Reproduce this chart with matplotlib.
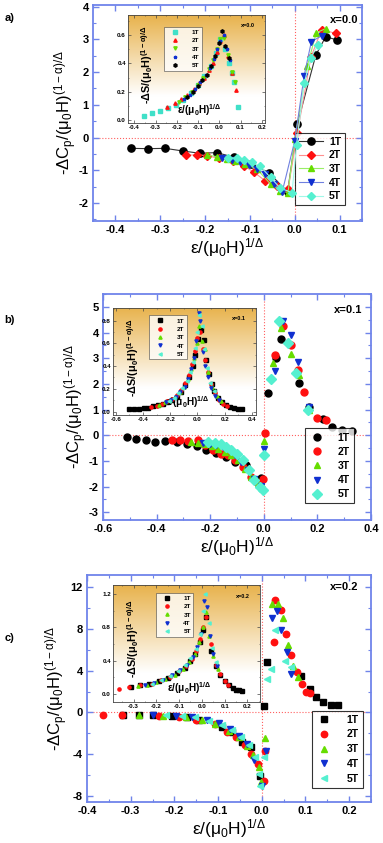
import numpy as np
import matplotlib
matplotlib.use('Agg')
import matplotlib.pyplot as plt
from matplotlib.ticker import MultipleLocator, FormatStrFormatter

plt.rcParams['font.family'] = ['Liberation Sans', 'DejaVu Sans']
plt.rcParams['font.weight'] = 'bold'
plt.rcParams['mathtext.fontset'] = 'custom'
plt.rcParams['mathtext.rm'] = 'Liberation Sans:bold'
plt.rcParams['mathtext.it'] = 'Liberation Sans:bold'
plt.rcParams['mathtext.bf'] = 'Liberation Sans:bold'
plt.rcParams['mathtext.default'] = 'regular'
plt.rcParams['axes.unicode_minus'] = False

fields = ['1T', '2T', '3T', '4T', '5T']

# ---- panel a, x=0.0 : main curves (-dCp)
a_x = [
    [-0.365, -0.327, -0.289, -0.25, -0.212, -0.174, -0.136, -0.098, -0.058, -0.016, 0.006, 0.047, 0.069, 0.095],
    [-0.243, -0.219, -0.195, -0.17, -0.137, -0.114, -0.092, -0.066, -0.04, -0.015, 0.006, 0.036, 0.06, 0.092],
    [-0.196, -0.174, -0.151, -0.133, -0.11, -0.084, -0.054, -0.032, -0.015, 0.0, 0.028, 0.048, 0.069],
    [-0.163, -0.14, -0.122, -0.103, -0.084, -0.066, -0.047, -0.028, 0.0, 0.021, 0.037, 0.06],
    [-0.148, -0.129, -0.113, -0.096, -0.077, -0.054, -0.032, -0.006, 0.004, 0.021, 0.036, 0.052],
]
a_y = [
    [-0.33, -0.34, -0.33, -0.41, -0.48, -0.46, -0.6, -0.8, -1.07, -1.66, 0.42, 2.52, 3.08, 2.98],
    [-0.54, -0.53, -0.55, -0.64, -0.71, -0.86, -1.05, -1.32, -1.47, -1.58, 0.15, 2.45, 3.3, 3.18],
    [-0.54, -0.58, -0.66, -0.71, -0.81, -0.97, -1.42, -1.63, -1.68, -0.05, 2.19, 3.2, 3.33],
    [-0.63, -0.68, -0.74, -0.84, -0.95, -1.12, -1.42, -1.66, -0.1, 1.89, 2.93, 3.11],
    [-0.61, -0.64, -0.68, -0.76, -0.88, -1.22, -1.55, -1.68, -0.22, 1.66, 2.44, 2.83],
]
# panel a inset (-dS)
ai_x = [
    [-0.355, -0.315, -0.278, -0.24, -0.205, -0.17, -0.135, -0.1, -0.07, -0.04, -0.015, 0.005, 0.025, 0.045, 0.06, 0.07, 0.09],
    [-0.245, -0.21, -0.18, -0.15, -0.12, -0.095, -0.07, -0.05, -0.03, -0.01, 0.005, 0.02, 0.04, 0.06, 0.08],
    [-0.19, -0.16, -0.13, -0.1, -0.075, -0.05, -0.03, -0.01, 0.005, 0.02, 0.04, 0.06, 0.075],
    [-0.165, -0.14, -0.115, -0.09, -0.065, -0.045, -0.025, -0.01, 0.005, 0.02, 0.035, 0.05],
    [-0.15, -0.125, -0.1, -0.08, -0.06, -0.04, -0.02, 0.0, 0.012, 0.028, 0.045],
]
ai_y = [
    [0.03, 0.05, 0.065, 0.085, 0.11, 0.145, 0.19, 0.25, 0.31, 0.38, 0.47, 0.57, 0.5, 0.4, 0.33, 0.27, 0.09],
    [0.09, 0.12, 0.15, 0.18, 0.22, 0.26, 0.3, 0.35, 0.4, 0.48, 0.56, 0.6, 0.45, 0.33, 0.21],
    [0.13, 0.16, 0.2, 0.25, 0.3, 0.36, 0.42, 0.5, 0.57, 0.58, 0.46, 0.34, 0.27],
    [0.15, 0.18, 0.22, 0.27, 0.32, 0.37, 0.43, 0.5, 0.56, 0.6, 0.5, 0.42],
    [0.16, 0.2, 0.24, 0.28, 0.32, 0.38, 0.45, 0.54, 0.63, 0.52, 0.44],
]

# ---- panel b, x=0.1
b_x = [
    [-0.51, -0.475, -0.44, -0.405, -0.37, -0.325, -0.288, -0.251, -0.217, -0.177, -0.14, -0.106, -0.065, -0.01,
     0.017, 0.046, 0.064, 0.132, 0.169, 0.22, 0.256, 0.293, 0.33],
    [-0.343, -0.312, -0.281, -0.247, -0.22, -0.191, -0.16, -0.133, -0.106, -0.078, -0.049, -0.022, -0.004, 0.006,
     0.04, 0.073, 0.1, 0.126, 0.15, 0.2, 0.231],
    [-0.272, -0.247, -0.22, -0.195, -0.17, -0.146, -0.121, -0.096, -0.072, -0.047, -0.022, -0.004, 0.002,
     0.033, 0.064, 0.101, 0.132, 0.17],
    [-0.226, -0.201, -0.177, -0.152, -0.127, -0.106, -0.084, -0.059, -0.035, -0.012, 0.0,
     0.04, 0.07, 0.101, 0.126, 0.168],
    [-0.207, -0.183, -0.16, -0.14, -0.121, -0.099, -0.078, -0.057, -0.035, -0.016, -0.004, 0.002,
     0.027, 0.058, 0.089, 0.12, 0.165],
]
b_y = [
    [-0.07, -0.13, -0.17, -0.26, -0.23, -0.26, -0.36, -0.4, -0.56, -0.68, -0.85, -1.04, -1.17, -1.67,
     1.63, 3.0, 3.76, 2.02, 1.11, 0.62, 0.33, 0.2, 0.17],
    [-0.17, -0.2, -0.22, -0.17, -0.39, -0.59, -0.72, -0.78, -0.98, -1.24, -1.63, -1.85, -1.7, 0.1,
     3.13, 4.24, 3.52, 2.55, 1.7, 0.68, 0.59],
    [-0.26, -0.29, -0.33, -0.42, -0.52, -0.65, -0.78, -0.98, -1.31, -1.63, -1.89, -2.02, -0.22,
     2.8, 4.18, 3.17, 2.35, 1.0],
    [-0.29, -0.33, -0.39, -0.46, -0.59, -0.78, -1.04, -1.37, -1.7, -1.96, -0.52,
     2.52, 4.44, 3.92, 2.87, 1.1],
    [-0.26, -0.3, -0.35, -0.46, -0.56, -0.72, -0.98, -1.34, -1.76, -2.02, -2.15, -0.78,
     2.19, 4.44, 3.59, 2.42, 1.0],
]
bi_x = [
    [-0.5, -0.465, -0.43, -0.395, -0.36, -0.325, -0.29, -0.255, -0.22, -0.185, -0.15, -0.12, -0.09, -0.06, -0.035,
     -0.015, 0.005, 0.025, 0.045, 0.065, 0.085, 0.105, 0.125, 0.15, 0.18, 0.21, 0.24, 0.27, 0.3, 0.33],
    [-0.34, -0.3, -0.26, -0.22, -0.185, -0.15, -0.12, -0.09, -0.065, -0.04, -0.02, 0.0, 0.02, 0.04, 0.055,
     0.075, 0.1, 0.13, 0.16, 0.19, 0.22],
    [-0.28, -0.24, -0.2, -0.165, -0.13, -0.1, -0.07, -0.045, -0.025, -0.005, 0.015, 0.035, 0.055, 0.08, 0.11,
     0.14, 0.17],
    [-0.23, -0.195, -0.16, -0.125, -0.095, -0.068, -0.045, -0.025, -0.008, 0.008, 0.022, 0.038, 0.055, 0.075,
     0.1, 0.13, 0.16],
    [-0.21, -0.175, -0.14, -0.11, -0.08, -0.055, -0.035, -0.015, 0.0, 0.015, 0.03, 0.05, 0.07, 0.095, 0.12],
]
bi_y = [
    [0.02, 0.022, 0.025, 0.03, 0.035, 0.045, 0.055, 0.065, 0.08, 0.1, 0.13, 0.17, 0.23, 0.3, 0.4,
     0.5, 0.64, 0.72, 0.63, 0.45, 0.33, 0.24, 0.18, 0.12, 0.08, 0.06, 0.04, 0.03, 0.025, 0.02],
    [0.04, 0.05, 0.07, 0.09, 0.11, 0.15, 0.19, 0.25, 0.32, 0.42, 0.53, 0.65, 0.7, 0.55, 0.45,
     0.35, 0.24, 0.16, 0.1, 0.07, 0.05],
    [0.06, 0.08, 0.1, 0.13, 0.17, 0.22, 0.29, 0.37, 0.47, 0.6, 0.75, 0.62, 0.55, 0.35, 0.22,
     0.14, 0.09],
    [0.08, 0.1, 0.13, 0.17, 0.22, 0.29, 0.37, 0.47, 0.62, 0.87, 0.8, 0.52, 0.4, 0.3,
     0.21, 0.14, 0.1],
    [0.09, 0.12, 0.16, 0.21, 0.27, 0.35, 0.44, 0.56, 0.7, 0.85, 0.75, 0.55, 0.38, 0.25, 0.18],
]

# ---- panel c, x=0.2
c_x = [
    [-0.317, -0.28, -0.248, -0.205, -0.17, -0.144, -0.092, -0.068, -0.045, -0.025, -0.004, 0.006, 0.011,
     0.089, 0.11, 0.125, 0.14, 0.158, 0.174],
    [-0.364, -0.32, -0.235, -0.19, -0.15, -0.106, -0.08, -0.059, -0.039, -0.024, -0.009, 0.004, 0.008,
     0.027, 0.03, 0.044, 0.055, 0.068, 0.08, 0.091, 0.102, 0.11],
    [-0.28, -0.225, -0.174, -0.136, -0.106, -0.076, -0.053, -0.034, -0.019, -0.006, -0.002, 0.008,
     0.024, 0.038, 0.048, 0.061, 0.072, 0.083],
    [-0.25, -0.197, -0.159, -0.125, -0.098, -0.072, -0.052, -0.034, -0.017, 0.0, 0.01,
     0.024, 0.036, 0.045, 0.057, 0.068],
    [-0.22, -0.182, -0.152, -0.121, -0.092, -0.068, -0.047, -0.03, -0.015, -0.006, -0.004, 0.004,
     0.011, 0.021, 0.03, 0.053, 0.067],
]
c_y = [
    [-0.22, -0.22, -0.24, -0.3, -0.45, -0.74, -1.38, -1.9, -2.88, -3.36, -6.08, 0.58, 4.86,
     3.52, 2.3, 1.44, 0.96, 0.7, 0.7],
    [-0.22, -0.2, -0.32, -0.45, -0.7, -1.12, -1.92, -2.4, -3.14, -4.0, -4.96, -6.56, -3.7,
     6.78, 10.8, 9.8, 7.5, 5.5, 3.9, 2.7, 2.0, 1.86],
    [-0.22, -0.3, -0.42, -0.74, -1.12, -1.76, -2.4, -3.2, -4.06, -5.28, -6.66, -2.5,
     10.4, 10.4, 9.06, 6.5, 4.48, 3.36],
    [-0.22, -0.32, -0.42, -0.74, -1.06, -1.6, -2.24, -3.04, -4.58, -7.04, -3.68,
     9.06, 9.76, 7.9, 5.76, 3.7],
    [-0.26, -0.35, -0.48, -0.8, -1.22, -1.7, -2.34, -3.14, -4.32, -5.92, -7.04, -4.32,
     3.2, 4.16, 7.9, 4.96, 4.32],
]
ci_x = [
    [-0.31, -0.27, -0.23, -0.19, -0.15, -0.11, -0.075, -0.05, -0.03, -0.01, 0.005, 0.02, 0.04, 0.06, 0.08,
     0.1, 0.12, 0.135, 0.15, 0.165, 0.178],
    [-0.365, -0.32, -0.27, -0.22, -0.18, -0.14, -0.1, -0.07, -0.045, -0.025, -0.008, 0.005, 0.02, 0.04, 0.06,
     0.08, 0.1, 0.115],
    [-0.28, -0.24, -0.2, -0.16, -0.12, -0.085, -0.055, -0.03, -0.012, 0.003, 0.018, 0.033, 0.05, 0.07],
    [-0.25, -0.21, -0.17, -0.13, -0.095, -0.065, -0.04, -0.02, -0.005, 0.01, 0.022, 0.035, 0.05, 0.065],
    [-0.22, -0.18, -0.14, -0.105, -0.075, -0.05, -0.028, -0.01, 0.005, 0.015, 0.03, 0.045, 0.06],
]
ci_y = [
    [0.08, 0.1, 0.12, 0.15, 0.19, 0.25, 0.31, 0.39, 0.48, 0.62, 0.77, 0.93, 0.52, 0.33, 0.22,
     0.15, 0.1, 0.07, 0.05, 0.04, 0.03],
    [0.06, 0.08, 0.1, 0.12, 0.16, 0.2, 0.27, 0.33, 0.42, 0.52, 0.66, 0.8, 0.92, 0.6, 0.35,
     0.24, 0.15, 0.11],
    [0.09, 0.11, 0.14, 0.18, 0.23, 0.3, 0.38, 0.48, 0.62, 0.8, 0.98, 0.7, 0.45, 0.3],
    [0.1, 0.13, 0.17, 0.22, 0.28, 0.35, 0.44, 0.56, 0.72, 1.12, 1.05, 0.7, 0.48, 0.33],
    [0.12, 0.16, 0.21, 0.27, 0.34, 0.43, 0.54, 0.72, 1.0, 1.2, 0.85, 0.55, 0.38],
]

# marker styles
RED, GREEN, BLUE, CYAN = '#ff1010', '#66dd00', '#1030d0', '#55f0d0'
a_style = [('o', 'black', '#333333'), ('D', RED, '#ff9090'), ('^', GREEN, '#99ee66'),
           ('v', BLUE, '#7080e0'), ('D', CYAN, '#a0f8e8')]
ai_style = [('s', '#40e0c8'), ('^', RED), ('v', GREEN), ('*', BLUE), ('h', 'black')]
b_style = [('o', 'black'), ('o', RED), ('^', GREEN), ('v', BLUE), ('D', CYAN)]
bi_style = [('s', 'black'), ('o', RED), ('^', GREEN), ('v', BLUE), ('<', CYAN)]
c_style = [('s', 'black'), ('o', RED), ('^', GREEN), ('v', BLUE), ('<', CYAN)]

SPINE = '#6f84ea'
ylab_main = r'-$\Delta$C$_p$/($\mu_0$H)$^{(1-\alpha)/\Delta}$'
ylab_in = r'-$\Delta$S/($\mu_0$H)$^{(1-\alpha)/\Delta}$'
xlab = r'$\epsilon$/($\mu_0$H)$^{1/\Delta}$'

W, H = 383.0, 843.0


def rect(l, t, r, b):
    return [l / W, 1 - b / H, (r - l) / W, (b - t) / H]


def style_main(ax, xmaj, ymaj, xfmt):
    for s in ax.spines.values():
        s.set_color(SPINE)
        s.set_linewidth(1.3)
    ax.xaxis.set_major_locator(MultipleLocator(xmaj))
    ax.xaxis.set_minor_locator(MultipleLocator(xmaj / 2))
    ax.yaxis.set_major_locator(MultipleLocator(ymaj))
    ax.yaxis.set_minor_locator(MultipleLocator(ymaj / 2))
    ax.xaxis.set_major_formatter(FormatStrFormatter(xfmt))
    ax.yaxis.set_major_formatter(FormatStrFormatter('%d'))
    ax.tick_params(which='both', direction='in', top=True, right=True, color=SPINE,
                   labelsize=8, pad=3)
    ax.tick_params(which='major', length=4, width=1)
    ax.tick_params(which='minor', length=2, width=0.8)
    ax.axhline(0, color='#ff6060', ls=':', lw=0.8, zorder=1)
    ax.axvline(0, color='#ff6060', ls=':', lw=0.8, zorder=1)
    ax.set_xlabel(xlab, fontsize=12.5, labelpad=1)
    ax.set_ylabel(ylab_main, fontsize=12, labelpad=0)


def style_inset(ax, xlim, ylim, xmaj, ymaj, tag):
    top = np.array([0.91, 0.70, 0.30])
    t = np.linspace(0, 1, 200)[:, None]
    w = np.clip(t / 0.75, 0, 1)
    grad = (top * (1 - w) + w)[:, None, :].repeat(2, axis=1)
    ax.imshow(grad, extent=[0, 1, 0, 1], transform=ax.transAxes, aspect='auto', zorder=0)
    ax.set_xlim(xlim)
    ax.set_ylim(ylim)
    for s in ax.spines.values():
        s.set_color('#444444')
        s.set_linewidth(0.6)
    ax.xaxis.set_major_locator(MultipleLocator(xmaj))
    ax.xaxis.set_minor_locator(MultipleLocator(xmaj / 2))
    ax.yaxis.set_major_locator(MultipleLocator(ymaj))
    ax.yaxis.set_minor_locator(MultipleLocator(ymaj / 2))
    ax.xaxis.set_major_formatter(FormatStrFormatter('%.1f'))
    ax.yaxis.set_major_formatter(FormatStrFormatter('%.1f'))
    ax.tick_params(which='both', direction='in', top=True, right=True, labelsize=4.5, pad=1.5,
                   color='#444444')
    ax.tick_params(which='major', length=2, width=0.5)
    ax.tick_params(which='minor', length=1, width=0.4)
    ax.text(0.14, 0.54, ylab_in, transform=ax.transAxes, rotation=90, fontsize=7.8,
            ha='center', va='center')
    ax.text(0.52, 0.12, xlab, transform=ax.transAxes, fontsize=7.2, ha='center', va='center')
    ax.text(0.93, 0.9, tag, transform=ax.transAxes, fontsize=4, ha='right', va='center')


def inset_legend(ax, anchor):
    leg = ax.legend(loc='upper left', bbox_to_anchor=anchor, fontsize=4.6, frameon=True,
                    fancybox=False, edgecolor='#444444', handlelength=2.6, borderpad=0.4,
                    labelspacing=0.45, handletextpad=1.3)
    leg.get_frame().set_linewidth(0.5)


fig = plt.figure(figsize=(W / 100, H / 100), dpi=100)

# ---------- panel a
ax = fig.add_axes(rect(93, 5, 362, 221))
for i in range(5):
    m, fc, lc = a_style[i]
    ax.plot(a_x[i], a_y[i], color=lc, lw=0.8, marker=m, mfc=fc, mec=fc,
            ms=5.2 if m == 'o' else 4.3, label=fields[i], zorder=3 + i)
ax.set_xlim(-0.45, 0.15)
ax.set_ylim(-2.55, 4.05)
style_main(ax, 0.1, 1, '%.1f')
ax.legend(loc='lower right', bbox_to_anchor=(0.955, 0.05), fontsize=7.5, frameon=True,
          fancybox=False, edgecolor='black', handlelength=2.3, borderpad=0.35,
          labelspacing=0.35, handletextpad=0.6).get_frame().set_linewidth(0.8)
ax.text(0.985, 0.93, 'x=0.0', transform=ax.transAxes, fontsize=8, ha='right', va='center')

axi = fig.add_axes(rect(128, 15, 265, 123))
style_inset(axi, (-0.43, 0.215), (-0.02, 0.74), 0.1, 0.2, 'x=0.0')
for i in range(5):
    m, c = ai_style[i]
    axi.plot(ai_x[i], ai_y[i], ls='none', marker=m, color=c, ms=2.4, label=fields[i], zorder=3)
inset_legend(axi, (0.24, 0.92))

# ---------- panel b
ax = fig.add_axes(rect(103, 294, 371, 520))
for i in range(5):
    m, c = b_style[i]
    ax.plot(b_x[i], b_y[i], ls='none', marker=m, color=c, mec=c,
            ms=5 if m in 'oD' else 4.8, label=fields[i], zorder=3 + i)
ax.set_xlim(-0.6, 0.4)
ax.set_ylim(-3.3, 5.5)
style_main(ax, 0.2, 1, '%.1f')
ax.legend(loc='lower right', bbox_to_anchor=(0.955, 0.05), fontsize=7.5, frameon=True,
          fancybox=False, edgecolor='black', handlelength=1.5, borderpad=0.4,
          labelspacing=0.4, handletextpad=1.2).get_frame().set_linewidth(0.8)
ax.text(0.966, 0.93, 'x=0.1', transform=ax.transAxes, fontsize=8, ha='right', va='center')

axi = fig.add_axes(rect(113, 308, 256, 415))
style_inset(axi, (-0.62, 0.43), (-0.03, 0.91), 0.2, 0.2, 'x=0.1')
for i in range(5):
    m, c = bi_style[i]
    axi.plot(bi_x[i], bi_y[i], ls='none', marker=m, color=c, ms=2.3, label=fields[i], zorder=3)
inset_legend(axi, (0.23, 0.96))

# ---------- panel c
ax = fig.add_axes(rect(87, 575, 371, 802))
for i in range(5):
    m, c = c_style[i]
    ax.plot(c_x[i], c_y[i], ls='none', marker=m, color=c, mec=c,
            ms=4.6 if m in 'os' else 5, label=fields[i], zorder=3 + i)
ax.set_xlim(-0.4, 0.25)
ax.set_ylim(-8.6, 13.2)
style_main(ax, 0.1, 4, '%.1f')
ax.yaxis.set_minor_locator(MultipleLocator(2))
ax.legend(loc='lower right', bbox_to_anchor=(0.99, 0.04), fontsize=7.5, frameon=True,
          fancybox=False, edgecolor='black', handlelength=1.5, borderpad=0.4,
          labelspacing=0.45, handletextpad=1.4).get_frame().set_linewidth(0.8)
ax.text(0.954, 0.945, 'x=0.2', transform=ax.transAxes, fontsize=8, ha='right', va='center')

axi = fig.add_axes(rect(113, 585, 260, 702))
style_inset(axi, (-0.39, 0.255), (-0.1, 1.31), 0.1, 0.4, 'x=0.2')
for i in range(5):
    m, c = bi_style[i]
    axi.plot(ci_x[i], ci_y[i], ls='none', marker=m, color=c, ms=2.3, label=fields[i], zorder=3)
inset_legend(axi, (0.27, 0.96))

# panel letters
fig.text(0.012, 0.975, 'a)', fontsize=8)
fig.text(0.012, 0.617, 'b)', fontsize=8)
fig.text(0.012, 0.24, 'c)', fontsize=8)

fig.savefig('out.png', dpi=100)
